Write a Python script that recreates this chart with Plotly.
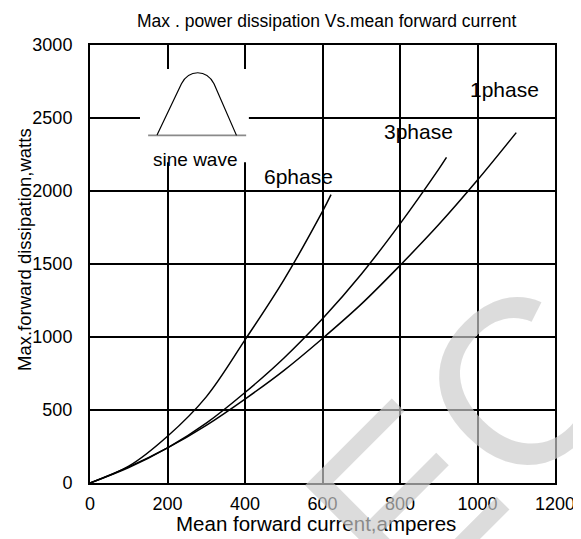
import plotly.graph_objects as go

# ---- data ----
x_1phase = [0, 100, 200, 300, 400, 500, 600, 700, 800, 900, 1000, 1100]
y_1phase = [0, 110, 240, 395, 575, 770, 990, 1225, 1490, 1770, 2075, 2400]

x_3phase = [0, 100, 200, 300, 400, 500, 600, 700, 800, 900, 920]
y_3phase = [0, 105, 240, 410, 620, 855, 1125, 1430, 1775, 2150, 2230]

x_6phase = [0, 100, 200, 300, 400, 500, 600, 622]
y_6phase = [0, 115, 320, 590, 980, 1390, 1860, 1975]

series_names = ["1phase", "3phase", "6phase"]
label_x = [1069, 847, 538]
label_y = [2692, 2406, 2098]

x_ticks = [0, 200, 400, 600, 800, 1000, 1200]
y_ticks = [0, 500, 1000, 1500, 2000, 2500, 3000]

title_text = "Max . power dissipation Vs.mean forward current"
x_title = "Mean forward current,amperes"
y_title = "Max.forward dissipation,watts"

FONT = "Liberation Sans, Arial, sans-serif"

# page has an 8px body margin; reference plot area is at px 90..555 x 45..483
OFF = 8
W, H = 581 - OFF, 539 - OFF
L, R, T, B = 90 - OFF, 26, 45 - OFF, 56
pw, ph = W - L - R, H - T - B


def to_paper(px, py):
    return (px - OFF - L) / pw, (H - B - (py - OFF)) / ph


fig = go.Figure()
for xs, ys, nm in [(x_1phase, y_1phase, "1phase"),
                   (x_3phase, y_3phase, "3phase"),
                   (x_6phase, y_6phase, "6phase")]:
    fig.add_trace(go.Scatter(x=xs, y=ys, mode="lines", name=nm,
                             line=dict(color="black", width=1.5, shape="spline", smoothing=1.0),
                             showlegend=False, hoverinfo="skip"))

annotations = []
for nm, lx, ly in zip(series_names, label_x, label_y):
    annotations.append(dict(x=lx, y=ly, xref="x", yref="y", text=nm, showarrow=False,
                            font=dict(family=FONT, size=21, color="black")))

# inset label
annotations.append(dict(x=273, y=2215, xref="x", yref="y", text="sine wave", showarrow=False,
                        font=dict(family=FONT, size=19, color="black")))

# title and axis titles (positioned by reference pixel centre)
for txt, (px, py), size, ang in [(title_text, (326, 21), 17.5, 0),
                                 (x_title, (316, 523), 20.5, 0),
                                 (y_title, (25, 250), 18.5, -90)]:
    ax_, ay_ = to_paper(px, py)
    annotations.append(dict(x=ax_, y=ay_, xref="paper", yref="paper", text=txt, showarrow=False,
                            textangle=ang, xanchor="center", yanchor="middle",
                            font=dict(family=FONT, size=size, color="black")))

# watermark
wx, wy = to_paper(463, 440)
annotations.append(dict(x=wx, y=wy, xref="paper", yref="paper",
                        text="EC", showarrow=False, textangle=-45,
                        font=dict(family=FONT, size=235, color="rgb(204,204,204)"),
                        opacity=0.67, xanchor="center", yanchor="middle"))

shapes = [
    dict(type="rect", xref="x", yref="y", x0=129, x1=410, y0=2197, y1=2836,
         fillcolor="white", line=dict(width=0), layer="above"),
    dict(type="line", xref="x", yref="y", x0=150, x1=403, y0=2381, y1=2381,
         line=dict(color="#8a8a8a", width=1.6), layer="above"),
    dict(type="path", xref="x", yref="y",
         path="M 173,2384 L 236,2735 C 256,2835 300,2835 320,2735 L 378,2381",
         line=dict(color="black", width=1.2), layer="above"),
]

axis_common = dict(showgrid=True, gridcolor="black", gridwidth=2,
                   showline=True, linecolor="black", linewidth=2, mirror=True,
                   zeroline=False, ticks="", tickfont=dict(family=FONT, size=18, color="black"))

fig.update_layout(
    width=W, height=H,
    margin=dict(l=L, r=R, t=T, b=B, autoexpand=False),
    paper_bgcolor="white", plot_bgcolor="white",
    xaxis=dict(range=[0, 1200], tickvals=x_ticks, ticktext=[str(v) for v in x_ticks],
               ticklabelstandoff=3, **axis_common),
    yaxis=dict(range=[0, 3000], tickvals=y_ticks, ticktext=[str(v) for v in y_ticks],
               ticklabelstandoff=12, **axis_common),
    annotations=annotations,
    shapes=shapes,
)

fig.write_html("out.html")
